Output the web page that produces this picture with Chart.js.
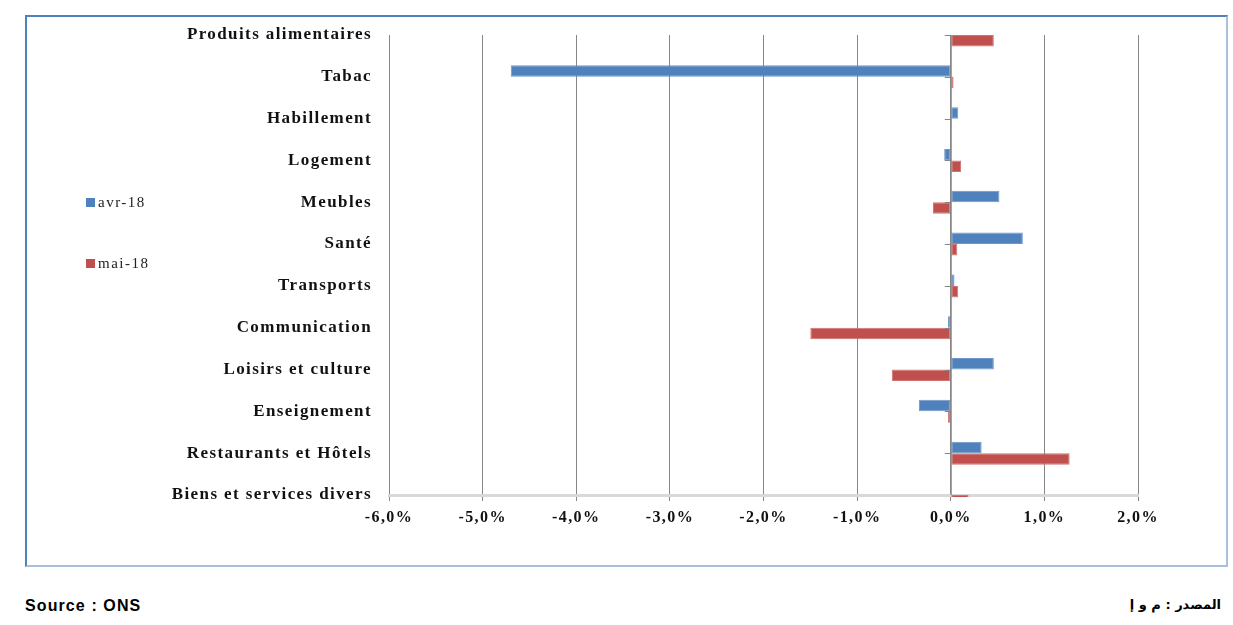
<!DOCTYPE html>
<html>
<head>
<meta charset="utf-8">
<script src="https://cdn.jsdelivr.net/npm/chart.js@4.4.1/dist/chart.umd.min.js"></script>
<style>
  body { margin: 0; background: #fff; width: 1233px; height: 625px; position: relative; overflow: hidden; }
  #frame { position: absolute; left: 25px; top: 15px; width: 1203px; height: 552px; box-sizing: border-box;
           border: 2px solid #4f81bd; border-bottom-color: #a9bfdc; border-right-color: #a9bfdc; }
  #wrap { position: absolute; left: 0; top: 0; width: 1199px; height: 548px; }
  .leg { position: absolute; font-family: "Liberation Serif", "DejaVu Serif", serif; font-size: 15px; letter-spacing: 1.5px; color: #222; }
  .leg span { display: inline-block; width: 9px; height: 9px; margin-right: 3px; }
  #src { position: absolute; left: 25px; top: 597px; font-family: "Liberation Sans", Arial, sans-serif; font-weight: bold; font-size: 16px; letter-spacing: 1.1px; }
  #srcAr { position: absolute; right: 12px; top: 597px; font-family: "DejaVu Sans", "Noto Sans", sans-serif; font-weight: bold; font-size: 13px; direction: rtl; }
</style>
</head>
<body>
<div id="frame">
  <div id="wrap"><canvas id="cpiChart"></canvas></div>
  <div class="leg" style="left:59px; top:177px;"><span style="background:#4f81bd"></span>avr-18</div>
  <div class="leg" style="left:59px; top:238px;"><span style="background:#c0504d"></span>mai-18</div>
</div>
<div id="src">Source : ONS</div>
<div id="srcAr">المصدر : م و إ</div>
<script>
// categories (top to bottom)
const categories = [
    'Produits alimentaires', 'Tabac', 'Habillement', 'Logement', 'Meubles', 'Santé',
    'Transports', 'Communication', 'Loisirs et culture', 'Enseignement',
    'Restaurants et Hôtels', 'Biens et services divers'
];
// monthly variation, in %
const avr18 = [0.0, -4.70, 0.08, -0.07, 0.52, 0.77, 0.04, -0.03, 0.46, -0.34, 0.33, 0.0];
const mai18 = [0.46, 0.03, 0.01, 0.11, -0.19, 0.07, 0.08, -1.50, -0.63, -0.03, 1.27, 0.19];
const xTicks = [-6, -5, -4, -3, -2, -1, 0, 1, 2];

// wider letter spacing for the axis texts, like the original picture
const spacing = {
    id: 'spacing',
    beforeDraw(chart) { chart.ctx.letterSpacing = '1.4px'; },
    afterDraw(chart) { chart.ctx.letterSpacing = '0px'; }
};

// small tick marks along the zero line, one per category
const zeroTicks = {
    id: 'zeroTicks',
    afterDatasetsDraw(chart) {
        const x = chart.scales.x, y = chart.scales.y;
        const x0 = x.getPixelForValue(0);
        const ctx = chart.ctx;
        ctx.save();
        ctx.strokeStyle = '#868686';
        ctx.lineWidth = 1;
        ctx.beginPath();
        ctx.moveTo(x0 + 0.5, chart.chartArea.top);
        ctx.lineTo(x0 + 0.5, chart.chartArea.bottom);
        for (let i = 0; i < categories.length - 1; i++) {
            const py = Math.round(y.getPixelForTick(i)) + 0.5;
            ctx.moveTo(x0 - 6, py);
            ctx.lineTo(x0, py);
        }
        ctx.stroke();
        ctx.restore();
    }
};

const cpiChart = new Chart(document.getElementById('cpiChart').getContext('2d'), {
    type: 'bar',
    data: {
        labels: categories,
        datasets: [
            {
                label: 'avr-18',
                data: avr18,
                backgroundColor: '#4f81bd',
                borderColor: '#6f97c9',
                borderWidth: 1,
                borderSkipped: false,
                categoryPercentage: 0.55,
                barPercentage: 1.0,
                clip: { left: 0, right: 0, top: 0, bottom: 2 }
            },
            {
                label: 'mai-18',
                data: mai18,
                backgroundColor: '#c0504d',
                borderColor: '#cf7472',
                borderWidth: 1,
                borderSkipped: false,
                categoryPercentage: 0.55,
                barPercentage: 1.0,
                clip: { left: 0, right: 0, top: 0, bottom: 2 }
            }
        ]
    },
    options: {
        indexAxis: 'y',
        responsive: true,
        maintainAspectRatio: false,
        animation: false,
        layout: { padding: { left: 0, right: 88, top: 18, bottom: 30 } },
        plugins: {
            legend: { display: false },
            tooltip: { enabled: false }
        },
        scales: {
            x: {
                min: -6,
                max: 2,
                afterBuildTicks: (s) => { s.ticks = xTicks.map(v => ({ value: v })); },
                afterFit: (s) => { s.height = 40; },
                grid: { color: '#868686', lineWidth: 1, tickLength: 6, drawTicks: true },
                border: { color: '#d9d9d9', width: 3 },
                ticks: {
                    padding: 7,
                    color: '#111',
                    font: { family: '"Liberation Serif", "DejaVu Serif", serif', size: 16, weight: 'bold' },
                    callback: (v) => v.toFixed(1).replace('.', ',') + '%'
                }
            },
            y: {
                offset: false,
                afterFit: (s) => { s.width = 362; s.paddingTop = 0; s.paddingBottom = 0; },
                grid: { display: false },
                border: { display: false },
                ticks: {
                    padding: 9,
                    color: '#111',
                    autoSkip: false,
                    font: { family: '"Liberation Serif", "DejaVu Serif", serif', size: 17, weight: 'bold' }
                }
            }
        }
    },
    plugins: [spacing, zeroTicks]
});
</script>
</body>
</html>
